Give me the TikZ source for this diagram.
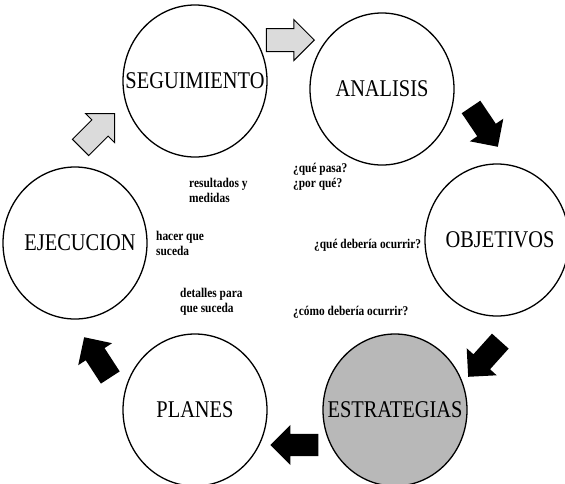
\documentclass[tikz,border=0pt]{standalone}
\usepackage{fontspec}
\setmainfont[FakeStretch=0.85]{Liberation Serif}
\usepackage{tikz}
\usetikzlibrary{shapes.geometric, shapes.arrows, positioning}

\begin{document}
\begin{tikzpicture}[x=1pt, y=-1pt, every node/.style={font=\small}]
            % node styles: big stage circles, block arrows, side notes
            \tikzset{
                stage/.style={ellipse, draw, line width=1.3pt, minimum width=144pt, minimum height=152pt, inner sep=0pt},
                stagetxt/.style={font=\fontsize{24}{28}\selectfont, inner sep=0pt},
                note/.style={font=\bfseries\fontsize{13.4}{15}\selectfont, align=left, anchor=west, inner sep=0pt},
                darrow/.style={single arrow, fill=black, minimum width=40pt, minimum height=48pt, single arrow head extend=9pt, inner xsep=0pt, inner ysep=11pt, anchor=tip},
                larrow/.style={darrow, draw=black, line width=1pt, fill=black!14}
            }
            \useasboundingbox (0,0) rectangle (565,483);
            % stages round the cycle
            \node[stage, label={[stagetxt]center:SEGUIMIENTO}] (seg) at (195,81) {};
            \node[stage, label={[stagetxt]center:ANALISIS}] (ana) at (382,89) {};
            \node[stage, label={[stagetxt, xshift=3pt]center:OBJETIVOS}] (obj) at (497,240) {};
            \node[stage, fill=black!28, label={[stagetxt]center:ESTRATEGIAS}] (est) at (395,410) {};
            \node[stage, label={[stagetxt]center:PLANES}] (pla) at (195,410) {};
            \node[stage, label={[stagetxt, xshift=5pt]center:EJECUCION}] (eje) at (75,243) {};
            % block arrows between stages (tip placed next to the target)
            \node[larrow, rotate=0] (a1) at (315,40) {};
            \node[darrow, rotate=-56] (a2) at (498,147) {};
            \node[darrow, rotate=-132] (a3) at (468,377) {};
            \node[darrow, rotate=180] (a4) at (270,445) {};
            \node[darrow, rotate=123] (a5) at (84,337) {};
            \node[larrow, rotate=45] (a6) at (115,113) {};
            % side notes
            \node[note] (n1) at (189,190) {resultados y\\medidas};
            \node[note] (n2) at (293,177) {¿qué pasa?\\¿por qué?};
            \node[note] (n3) at (156,243) {hacer que\\suceda};
            \node[note] (n4) at (314,245) {¿qué debería ocurrir?};
            \node[note] (n5) at (180,302) {detalles para\\que suceda};
            \node[note] (n6) at (293,312) {¿cómo debería ocurrir?};
        \end{tikzpicture}
\end{document}
